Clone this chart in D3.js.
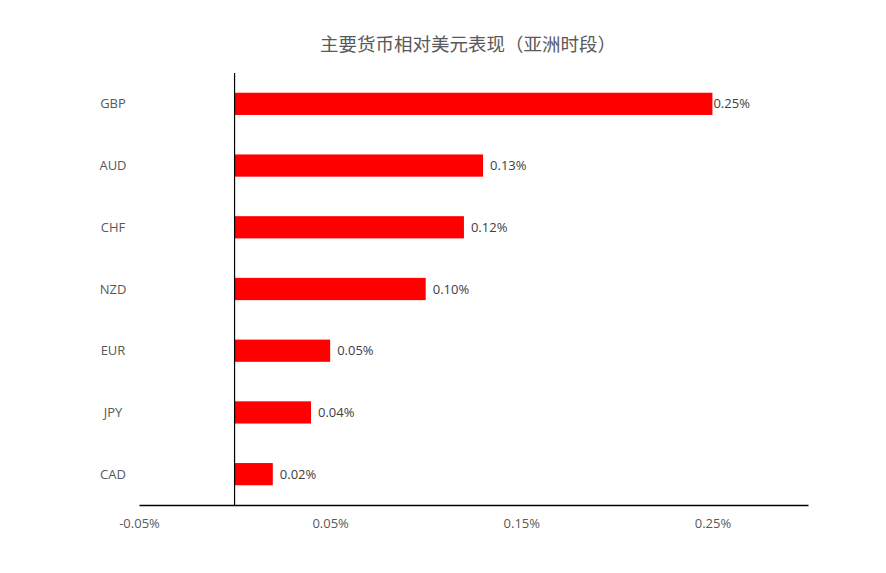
<!DOCTYPE html>
<html>
<head>
<meta charset="utf-8">
<script src="https://cdn.jsdelivr.net/npm/d3@7"></script>
<style>
body{margin:0;background:#fff;}
text{font-family:"Open Sans","Noto Sans","Noto Sans CJK SC",sans-serif;}
</style>
</head>
<body>
<svg></svg>
<script>
var currencies=["GBP","AUD","CHF","NZD","EUR","JPY","CAD"];
var changes=[0.25,0.13,0.12,0.10,0.05,0.04,0.02];
var tickValues=[-0.05,0.05,0.15,0.25];
var title="主要货币相对美元表现（亚洲时段）";

var svgWidth=886, svgHeight=573;
var plotLeft=139, plotRight=808, plotTop=73, plotBottom=505;

var svg=d3.select("svg")
    .attr("width",svgWidth)
    .attr("height",svgHeight);

var x=d3.scaleLinear().domain([-0.05,0.30]).range([plotLeft,plotRight]);
var y=d3.scaleBand().domain(currencies).range([plotTop,plotBottom]).paddingInner(0.64).paddingOuter(0.32);

var rows=currencies.map(function(c,i){ return {name:c,value:changes[i]}; });
var maxVal=d3.max(changes);

svg.append("text")
    .attr("x",468).attr("y",51)
    .attr("text-anchor","middle")
    .attr("font-size","18.5px")
    .attr("fill","#595959")
    .attr("font-family","'Noto Sans CJK SC',sans-serif")
    .text(title);

svg.selectAll("rect.bar")
    .data(rows)
    .enter()
    .append("rect")
    .attr("class","bar")
    .attr("x",x(0))
    .attr("y",function(d){ return y(d.name); })
    .attr("width",function(d){ return x(d.value)-x(0); })
    .attr("height",y.bandwidth())
    .attr("fill","#ff0000");

// the longest bar's label sits flush against its end, the others a little off
svg.selectAll("text.val")
    .data(rows)
    .enter()
    .append("text")
    .attr("class","val")
    .attr("x",function(d){ return x(d.value)+(d.value===maxVal?1:7); })
    .attr("y",function(d){ return y(d.name)+y.bandwidth()/2; })
    .attr("dy","0.35em")
    .attr("font-size","13px")
    .attr("fill","#404040")
    .text(function(d){ return d.value.toFixed(2)+"%"; });

svg.selectAll("text.cat")
    .data(rows)
    .enter()
    .append("text")
    .attr("class","cat")
    .attr("x",113)
    .attr("y",function(d){ return y(d.name)+y.bandwidth()/2; })
    .attr("dy","0.35em")
    .attr("text-anchor","middle")
    .attr("font-size","13px")
    .attr("fill","#595959")
    .text(function(d){ return d.name; });

// x axis without tick marks
var xAxis=d3.axisBottom(x).tickValues(tickValues).tickSize(0).tickPadding(14)
    .tickFormat(function(d){ return d.toFixed(2)+"%"; });
var gx=svg.append("g").attr("transform","translate(0,"+plotBottom+")").call(xAxis);
gx.select(".domain").attr("stroke","#000").attr("stroke-width",1.3);
gx.selectAll("text").attr("font-size","13px").attr("fill","#595959")
    .attr("font-family","'Open Sans','Noto Sans',sans-serif");

// zero line
svg.append("line")
    .attr("x1",x(0)).attr("x2",x(0))
    .attr("y1",plotTop).attr("y2",plotBottom)
    .attr("stroke","#000").attr("stroke-width",1.2);
</script>
</body>
</html>
